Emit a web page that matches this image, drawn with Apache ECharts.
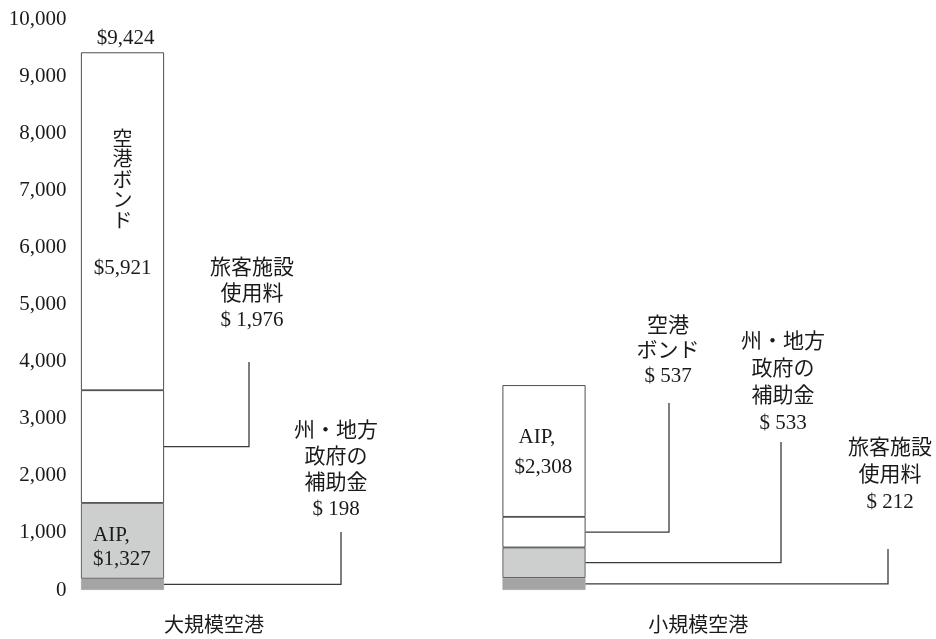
<!DOCTYPE html>
<html>
<head>
<meta charset="utf-8">
<script src="https://cdn.jsdelivr.net/npm/echarts@6/dist/echarts.min.js"></script>
<style>
  html, body { margin: 0; padding: 0; background: #fff; }
  #chart { width: 936px; height: 639px; }
</style>
</head>
<body>
<div id="chart"></div>
<script>
const categories = ["大規模空港", "小規模空港"];

// stack layers, bottom to top (one value per category)
const layer1Values = [198, 212];
const layer2Values = [1327, 533];
const layer3Values = [1976, 537];
const layer4Values = [5921, 2308];

const layer1Names = ["州・地方政府の補助金", "旅客施設使用料"];
const layer2Names = ["AIP", "州・地方政府の補助金"];
const layer3Names = ["旅客施設使用料", "空港ボンド"];
const layer4Names = ["空港ボンド", "AIP"];

const totalLabels = [9424, null];
const yMax = 10000;
const yInterval = 1000;

const layers = [layer1Values, layer2Values, layer3Values, layer4Values];
const layerNames = [layer1Names, layer2Names, layer3Names, layer4Names];

const FONT = '"Liberation Serif", "Noto Sans CJK JP", serif';
const BAR_W = 83;
const colors = ["#a4a4a4", "#cdcfce", "#ffffff", "#ffffff"];
const borders = ["#a4a4a4", "#444", "#222", "#222"];

// how each name is broken into lines in the callouts
const nameLines = {
  "州・地方政府の補助金": ["州・地方", "政府の", "補助金"],
  "旅客施設使用料": ["旅客施設", "使用料"],
  "空港ボンド": ["空港", "ボンド"],
  "AIP": ["AIP,"],
};

// callout placement (pixels)
const callouts = [
  { cat: 0, layer: 2, elbowX: 249, topY: 362, textX: 252, textTop: 255, lh: 26 },
  { cat: 0, layer: 0, elbowX: 341, topY: 532, textX: 336, textTop: 418, lh: 26 },
  { cat: 1, layer: 2, elbowX: 669, topY: 403, textX: 668, textTop: 314, lh: 25 },
  { cat: 1, layer: 1, elbowX: 781, topY: 442, textX: 783, textTop: 329, lh: 27 },
  { cat: 1, layer: 0, elbowX: 888, topY: 549, textX: 890, textTop: 435, lh: 27 },
];

const money = (v, sp) => "$" + (sp ? " " : "") + v.toLocaleString("en-US");

const chart = echarts.init(document.getElementById("chart"));

chart.setOption({
  animation: false,
  grid: { left: 122.5, right: 392, top: 19.4, bottom: 49 },
  xAxis: {
    type: "category",
    data: categories,
    boundaryGap: false,
    axisLine: { show: false },
    axisTick: { show: false },
    axisLabel: { show: false },
  },
  yAxis: {
    type: "value",
    min: 0,
    max: yMax,
    interval: yInterval,
    axisLine: { show: false },
    axisTick: { show: false },
    splitLine: { show: false },
    axisLabel: {
      margin: 56,
      color: "#1a1a1a",
      fontSize: 21,
      fontFamily: FONT,
      formatter: (v) => v.toLocaleString("en-US"),
    },
  },
  series: layers.map((vals, i) => ({
    type: "bar",
    stack: "total",
    data: vals,
    barWidth: BAR_W,
    clip: false,
    silent: true,
    itemStyle: { color: colors[i], borderColor: borders[i], borderWidth: 0.8 },
  })),
});

function px(cat, value) {
  return chart.convertToPixel({ xAxisIndex: 0, yAxisIndex: 0 }, [cat, value]);
}

function segment(cat, layer) {
  let base = 0;
  for (let i = 0; i < layer; i++) base += layers[i][cat];
  const top = base + layers[layer][cat];
  const p0 = px(cat, base);
  const p1 = px(cat, top);
  return { cx: p0[0], left: p0[0] - BAR_W / 2, right: p0[0] + BAR_W / 2, y0: p0[1], y1: p1[1], mid: (p0[1] + p1[1]) / 2 };
}

function text(str, x, y, opts) {
  return {
    type: "text",
    silent: true,
    z: 10,
    style: Object.assign({
      text: str, x: x, y: y,
      fill: "#1a1a1a", fontSize: 21, fontFamily: FONT,
      align: "center", verticalAlign: "top",
    }, opts || {}),
  };
}

const graphic = [];

// callout lines and labels
callouts.forEach((c) => {
  const s = segment(c.cat, c.layer);
  graphic.push({
    type: "polyline",
    silent: true,
    z: 10,
    shape: { points: [[s.right, s.mid], [c.elbowX, s.mid], [c.elbowX, c.topY]] },
    style: { stroke: "#3a3a3a", lineWidth: 1.3, fill: null },
  });
  const name = layerNames[c.layer][c.cat];
  const lines = nameLines[name].concat([money(layers[c.layer][c.cat], true)]);
  graphic.push(text(lines.join("\n"), c.textX, c.textTop, { lineHeight: c.lh }));
});

// labels inside the bars
{
  // large: vertical 空港ボンド
  const s = segment(0, 3);
  const chars = layer4Names[0].split("").join("\n");
  graphic.push(text(chars, s.cx, s.y1 + 78, { fontSize: 20, lineHeight: 20.5 }));
  graphic.push(text(money(layer4Values[0]), s.cx, s.y1 + 206, {}));

  const a = segment(0, 1);
  graphic.push(text("AIP,\n" + money(layer2Values[0]), a.left + 12, a.mid - 17, { align: "left", lineHeight: 24 }));

  const b = segment(1, 3);
  graphic.push(text("AIP,", b.left + 16, b.mid - 24, { align: "left" }));
  graphic.push(text(money(layer4Values[1]), b.left + 12, b.mid + 6, { align: "left" }));
}

// totals on top
totalLabels.forEach((t, i) => {
  if (t == null) return;
  const p = px(i, t);
  graphic.push(text(money(t), p[0] + 3, p[1] - 3, { verticalAlign: "bottom" }));
});

// category names under each group (bar + callouts)
categories.forEach((name, i) => {
  const s = segment(i, 0);
  const far = Math.max.apply(null, callouts.filter((c) => c.cat === i).map((c) => c.elbowX));
  graphic.push(text(name, (s.left + far) / 2 + 3, 617, { fontSize: 20 }));
});

chart.setOption({ graphic: graphic });
</script>
</body>
</html>
